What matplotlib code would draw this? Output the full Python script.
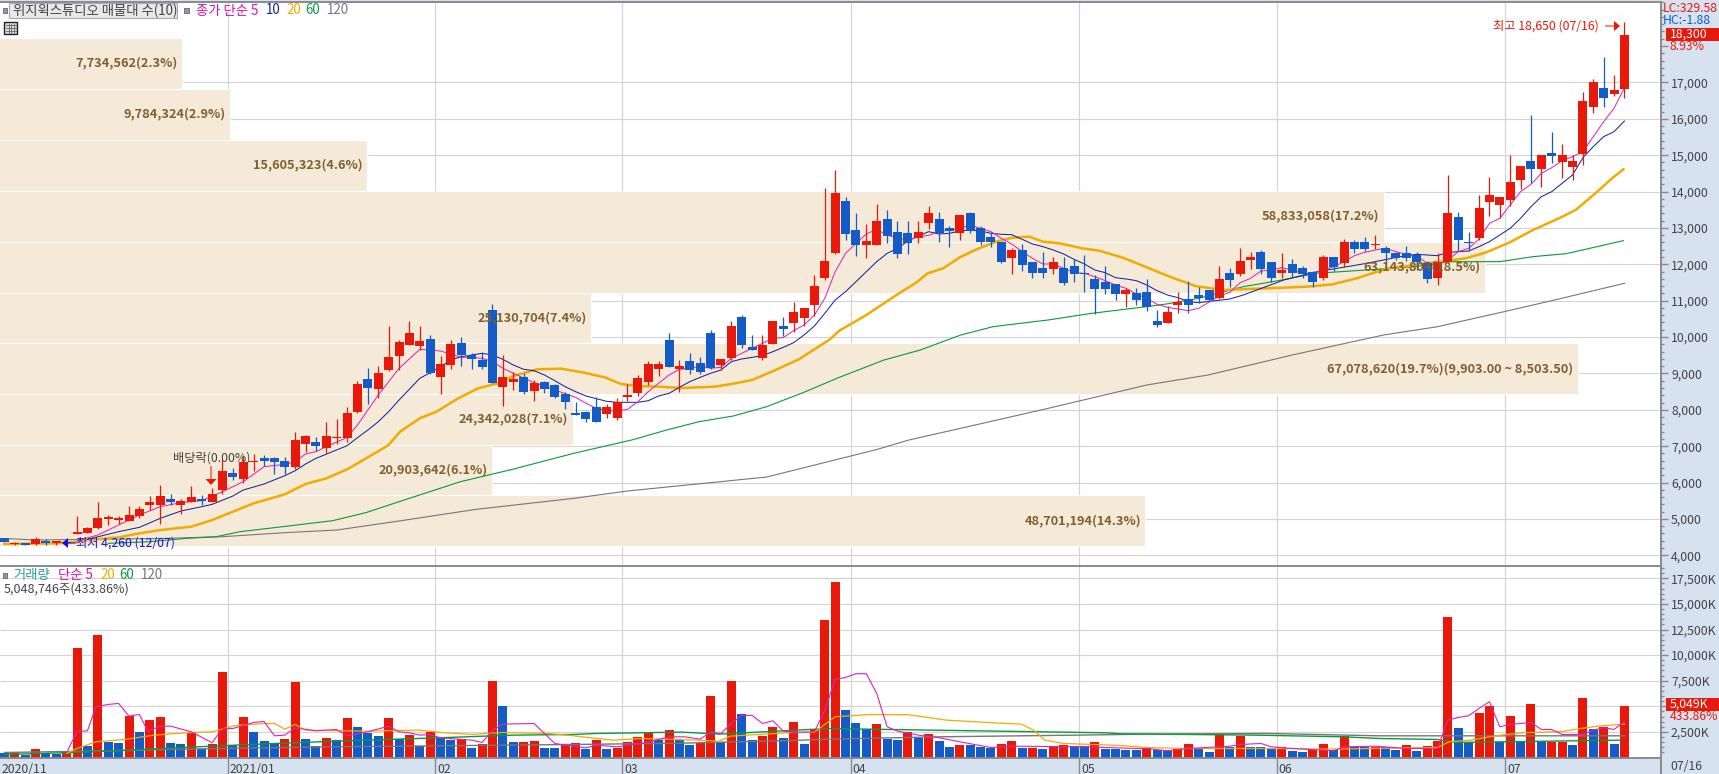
import matplotlib
matplotlib.use("Agg")
import matplotlib.pyplot as plt
from matplotlib.patches import Rectangle, FancyArrow
from matplotlib.transforms import Affine2D

plt.rcParams['font.family'] = ['Noto Sans CJK KR', 'DejaVu Sans']

#----------
# price data
#----------
opens = [4475,4300,4345,4300,4385,4338,4330,4585,4613,4750,
         4998,4980,4943,5080,5383,5383,5548,5383,5465,5538,
         5465,5795,6262,6097,6565,6675,6675,6592,6427,7060,
         7114,6950,7224,7224,7939,8846,8571,9094,9478,9782,
         9754,9946,8902,9232,9836,9507,9369,10744,8627,8764,
         8902,8517,8764,8682,8435,7912,7940,8077,7885,7775,
         8352,8462,8764,9122,9919,9122,9342,9287,10111,9232,
         9424,10551,9727,9424,9809,10304,10386,10524,10881,11623,
         12311,13740,12943,12530,12530,13245,12888,12860,12723,13135,
         13245,12998,12860,13410,12998,12750,12613,12173,12393,12063,
         11898,11871,11898,11953,11761,11596,11513,11458,11183,11211,
         11238,10441,10386,10881,11046,11156,11293,11080,11761,11733,
         12118,12338,12063,11761,12008,11898,11779,11623,12201,12036,
         12613,12613,12531,12448,12311,12311,12256,12027,11623,12063,
         13300,12613,12723,13713,13630,13768,14317,14840,14620,15060,
         14812,14675,15032,16324,16846,16681,16819]
highs = [4475,4355,4345,4500,4440,4393,4400,5080,4778,5465,
         5108,5080,5355,5355,5630,5933,5685,5548,5905,5658,
         5841,6620,6400,6757,6775,6757,6702,6702,7389,7307,
         7252,7664,7747,8076,8791,9149,9204,10303,9918,10441,
         10304,10056,9479,9919,10001,9571,9589,10909,9507,9039,
         9012,8819,8792,8709,8489,8215,7967,8352,8160,8325,
         8709,8957,9342,9342,10111,9369,9562,9452,10194,9397,
         10441,10606,10056,10056,10441,10551,10964,10799,11706,14097,
         14592,13850,13410,13108,13657,13493,13190,13190,13190,13603,
         13438,13053,13355,13438,13053,12888,12613,12448,12558,12063,
         12338,12200,12200,12146,12256,11706,11953,11458,11348,11348,
         11596,10744,10854,11238,11541,11376,11293,11953,11898,12448,
         12338,12393,12063,12311,12146,11953,11816,12256,12201,12695,
         12668,12751,12805,12503,12338,12503,12338,12091,12311,14455,
         13438,12888,13905,14400,13850,15005,14702,16104,15005,15637,
         15307,15005,16736,17094,17698,17204,18650]
lows = [4365,4270,4290,4285,4290,4270,4260,4585,4613,4732,
        4833,4870,4943,5025,5245,4860,5383,5135,5465,5383,
        5465,5685,6070,5996,6317,6455,6235,6235,6372,6840,
        6867,6812,7060,7114,7912,8159,8324,9066,9094,9782,
        9644,8984,8435,9122,9204,9122,9122,8737,8105,8544,
        8435,8242,8462,8325,8022,7857,7665,7665,7775,7720,
        8242,8380,8682,8929,9177,8489,8984,8984,9122,9094,
        9369,9699,9644,9369,9809,10029,10139,10304,10579,11568,
        12283,12668,12228,12173,12530,12585,12173,12283,12585,12970,
        12613,12475,12668,12860,12530,12475,12036,11733,11816,11623,
        11623,11733,11431,11513,11238,10634,11183,11019,10826,10881,
        10716,10276,10386,10661,10661,10936,11000,11050,11376,11678,
        11871,11733,11513,11623,11651,11623,11376,11568,11816,11926,
        12311,12366,12421,12036,12118,12091,11843,11486,11431,12063,
        12366,12366,12668,13328,13273,13603,14070,14235,14125,14785,
        14372,14317,14730,16159,16324,16626,16571]
closes = [4365,4345,4290,4440,4330,4393,4365,4640,4750,5025,
          5053,5035,5108,5273,5465,5630,5465,5493,5603,5483,
          5685,6317,6152,6565,6592,6592,6565,6427,7169,7279,
          7005,7279,7252,7912,8709,8599,9011,9451,9863,10111,
          9891,9012,9259,9809,9507,9397,9177,8737,8902,8847,
          8489,8737,8572,8352,8215,7857,7747,7665,8077,8215,
          8407,8874,9259,9259,9177,9204,9094,9039,9149,9397,
          10304,9782,9644,9782,10441,10221,10689,10799,11403,12091,
          13960,12833,12530,12640,13190,12778,12283,12585,12888,13410,
          12860,12915,13355,12915,12613,12613,12063,12393,11981,11761,
          11761,12063,11486,11733,11733,11321,11321,11183,11293,11019,
          10826,10331,10689,10964,10881,11074,11020,11596,11568,12091,
          12201,11871,11623,11843,11761,11733,11513,12201,11926,12613,
          12421,12421,12558,12311,12173,12173,12063,11596,12063,13410,
          12668,12586,13548,13905,13850,14262,14702,14620,15005,14977,
          15005,14840,16489,17011,16571,16791,18303]

# moving averages, only at the spots where the line could be read
ma5_x = [7,9,11,13,15,17,19,21,23,25,27,28,29,30,31,33,34,35,36,37,38,40,42,44,45,46,47,48,49,51,53,55,56,57,58,59,60,61,62,63,64,65,66,67,68,69,70,72,73,74,75,76,77,78,79,80,81,82,83,84,85,86,87,88,89,90,91,92,93,94,95,96,97,98,99,100,101,102,103,104,105,106,107,108,109,110,111,112,113,114,115,116,117,118,119,120,121,122,123,124,125,126,127,128,129,130,131,132,133,134,135,136,137,138,139,140,141,142,143,144,145,146,147,148,149,150,151,152,153,154,155,156]
ma5_y = [4400,4558,4833,5108,5337,5447,5502,5749,6024,6436,6500,6570,6785,6849,6986,7243,7582,7994,8406,8773,9139,9662,9617,9442,9442,9415,9323,9140,9003,8746,8545,8343,8178,8040,7977,7967,8013,8224,8499,8728,8957,9113,9140,9204,9140,9168,9415,9690,9827,9965,9983,10176,10331,10606,11064,11797,12301,12576,12833,12961,12805,12714,12668,12760,12796,12897,12943,12989,13080,12989,12897,12714,12558,12347,12164,12008,12008,11889,11770,11751,11660,11550,11431,11339,11183,11064,10899,10817,10771,10725,10790,10960,11130,11230,11495,11614,11816,11843,11907,11843,11752,11752,11843,11935,12072,12237,12329,12393,12439,12347,12274,12237,12027,11981,12118,12347,12439,12695,13126,13264,13630,13997,14198,14501,14656,14849,14959,15096,15508,15921,16287,16855]
ma10_x = [8,11,13,15,17,19,20,22,23,25,27,28,29,30,33,34,35,36,37,38,40,41,42,43,44,45,46,47,48,49,50,51,52,53,54,55,56,57,58,59,60,61,62,63,64,65,66,67,68,69,70,71,72,73,74,75,76,77,78,79,80,81,82,83,84,85,86,87,88,89,90,91,92,93,94,95,96,97,98,99,100,101,102,103,104,105,106,107,108,109,110,111,112,113,114,115,116,118,119.3,123.2,126.4,128.7,131.2,134.4,136,138,139,140,141,142,143,144,145,146,147,148,149,150,151,152,153,154,155,156]
ma10_y = [4439,4650,4769,5016,5218,5337,5401,5630,5795,5960,6189,6326,6510,6665,7014,7234,7444,7673,7948,8269,8865,9021,9186,9369,9461,9507,9552,9507,9387,9232,9113,9076,8957,8801,8636,8499,8380,8306,8233,8206,8206,8206,8251,8380,8453,8618,8774,8893,9003,9094,9323,9397,9442,9488,9598,9717,9846,10056,10304,10652,11019,11248,11522,11797,12072,12301,12439,12640,12778,12897,12833,12851,12915,12943,12915,12851,12824,12814,12686,12558,12485,12393,12283,12136,12008,11843,11770,11632,11596,11550,11431,11275,11156,11083,10973,10945,10980,11046,11156,11568,11797,11907,12027,12210,12274,12237,12329,12347,12366,12485,12622,12805,12989,13264,13584,13859,13997,14226,14455,14931,15234,15509,15646,15939]
ma20_x = [0,2,5,7,8,11,13,15,18,20,22,24,27,29,31,33,35,37,38.1,40,41.6,43.7,45.6,47.5,49,51.3,53.6,55.8,57.8,59.4,61,63,65.2,68.4,70,72,73.9,76.5,79.5,80.4,83,85.9,87.8,88.9,90.4,92,93.6,95.5,97.1,98.7,100,101.6,103.8,105.4,107.7,110,112.2,114.7,117.3,121.5,125.4,127.9,130.2,133,136.9,138.2,140.7,142.7,144.9,147.2,149.7,151.3,153.2,154.8,155.9]
ma20_y = [4310,4320,4330,4370,4420,4494,4604,4695,4787,4970,5199,5428,5676,5960,6116,6363,6693,7032,7400,7766,7949,8315,8590,8728,8929,9113,9131,9021,8893,8709,8654,8636,8599,8636,8709,8819,9048,9387,9937,10176,10606,11156,11495,11752,11889,12191,12411,12622,12732,12760,12622,12576,12439,12375,12182,11917,11660,11403,11293,11339,11385,11449,11614,11871,12027,12072,12164,12329,12595,12943,13264,13493,13951,14363,14611]
ma60_x = [10,14,17.5,20.4,22.7,26.8,31.6,34.8,38,43.9,48.9,54.8,60.4,64,66.9,70.2,73.4,76.9,80.4,84.7,88.2,92.1,95.2,100.5,104.7,110,111.9,115,119.3,122.5,126.3,131.1,135.9,139.1,144,147.2,150.4,155.9]
ma60_y = [4329,4375,4466,4512,4650,4787,4952,5172,5474,6023,6362,6802,7170,7463,7674,7830,8086,8471,8893,9369,9644,10057,10286,10469,10652,10836,10909,11064,11385,11541,11752,11843,11935,12072,12072,12210,12292,12650]
ma120_x = [0.5,3,15.6,21,27,32,38,45.4,54.8,60,73.4,84,87.1,93.5,100.5,110,115.9,124,132.8,138,144.4,149,156]
ma120_y = [4457,4420,4466,4512,4622,4695,4943,5263,5565,5768,6152,6908,7170,7583,8040,8682,8956,9506,10056,10285,10697,11000,11477]

#----------
# volume data (thousand shares)
#----------
volumes = [424,520,293,815,391,326,620,10690,1108,11960,
           1532,1402,4042,2478,3651,3945,1402,1304,2478,782,
           1304,8346,1206,3945,2478,1597,1402,1793,7368,1793,
           1108,1891,1695,3847,2967,2380,2086,3847,1793,2184,
           1108,2478,1891,1695,1793,913,1304,7465,5020,1500,
           1500,1597,913,913,1206,1402,815,1695,815,913,
           1500,1989,2478,1695,2673,1695,1206,1402,5998,1500,
           7465,4238,1695,2086,2967,1891,3456,1304,2771,13431,
           17148,4629,3358,2771,3260,1793,1695,2478,1891,2282,
           1597,1011,1206,1206,1011,913,1304,1597,913,913,
           815,1011,1206,1108,1108,1500,815,815,717,717,
           913,717,717,815,1304,815,522,2184,1011,2086,
           1011,1011,815,1011,619,522,717,1304,717,2086,
           1011,1011,1011,1011,717,1206,619,1108,1597,13725,
           2869,1500,4336,5020,1500,4042,1597,5216,1597,1500,
           1500,1206,5803,2771,2967,1304,5049]
vol_colors = ("brbrbbrrbr" "bbrbrrbbrb" "rrbrbbbrrb" "brbrbbbrbr" "brbbrbrrbb"
              "rrbbrrbrbr" "rrrbrbbrrb" "rbbrrbrbrr" "rbbbrbbrbr" "bbrbbbrrbr"
              "brrbbrbbbb" "rbbrrbbrbr" "bbbrbbrrbr" "bbrbbrbrrr" "bbrrbrbrbr"
              "rbrbrbr")

vma5_x = [6.1,7,8,8.8,10,11,12,13,13.8,15,16,18,20,21,22,24,25,26,27,28,29,30,32,33,35,37,38,39,40,41,42,45,46,47,48,51,52,53,54.8,56,57,59,61.8,64,65.5,67,68,69,70,71,72,73,74,75,76,78,79,80,81,82,83,84,85,86,88,90,92,95,97,104,109,110,112,114,118,119,121,122,124,128,129,132,135,138,139,140,141,142,143,144,145,147,148,149,150,152,153,154,155,156]
vma5_y = [717,2543,2608,4955,5183,5281,4042,4205,2575,3064,3064,2510,1434,2836,2836,3423,3521,2119,2184,2901,2738,2608,2738,2119,2510,3064,2510,2412,2184,2249,1923,1695,1467,2673,3260,3325,2347,1369,1108,945,1206,1043,1467,2021,2021,1793,2478,2347,3325,4108,4108,3325,3586,2575,2445,2510,4629,7628,7824,8183,8183,6259,2999,2575,2184,1923,1532,978,1108,1043,880,880,652,880,1108,1271,1369,1043,880,652,1043,1108,880,880,3651,3912,4075,4792,5444,2999,3227,3423,2738,2738,2249,2249,2673,2901,2738,3521]
vma20_x = [6,7,8.8,11.6,14.4,17.5,20,22.1,25,26,27,28,29,34.8,40,42,45,48,52.4,54.8,56.5,58.6,61.4,66.7,68.8,69.9,75.9,78,80,83.4,87.1,90.7,95.2,97.9,99.1,100.2,102,107.5,110,113.4,124,127.5,138,139.1,141.2,143,144.6,146.2,150,151.8,153.5,156]
vma20_y = [391,880,1532,1760,2184,2412,2510,3097,3325,3325,2771,3227,2673,2575,2673,2445,2249,2445,2347,2119,1923,1695,1858,1695,1597,2086,2445,2478,3977,4205,4173,3651,3390,3260,2673,1695,1369,1174,978,880,880,815,978,1532,1695,2021,2249,2412,2543,2836,3064,3260]
vma60_x = [0,6.6,8.2,13.7,20.7,27.7,34.8,41.8,48.9,54.8,56.9,65.3,68.8,79.4,82.9,93.5,106.1,107.5,120.5,128.9,132.4,138,139.8,155.7]
vma60_y = [293,489,554,815,1141,1434,1695,1923,2184,2249,2347,2478,2282,2836,2771,2608,2412,2315,2184,2021,1858,1760,1467,1695]
vma120_x = [0,10.1,20.7,31.3,41.8,54.8,65.3,75.9,79.4,90,103.3,110,121.5,132.4,156]
vma120_y = [489,652,880,1043,1141,1271,1402,1663,1793,2021,2184,2282,2347,2119,2119]

#----------
# volume-by-price bands, bottom band first
#----------
band_edges = [4264,5658,7046,8439,9828,11219,12621,14023,15425,16827,18221]
band_vols = [48701194,20903642,24342028,67078620,25130704,63143804,58833058,15605323,9784324,7734562]
band_labels = ["48,701,194(14.3%)","20,903,642(6.1%)","24,342,028(7.1%)",
               "67,078,620(19.7%)(9,903.00 ~ 8,503.50)","25,130,704(7.4%)",
               "63,143,804(18.5%)","58,833,058(17.2%)","15,605,323(4.6%)",
               "9,784,324(2.9%)","7,734,562(2.3%)"]

month_pos = [21.5,41.5,59.5,81.5,103.5,122.5,144.5]
month_labels = ["2021/01","02","03","04","05","06","07"]
price_ticks = list(range(4000,19000,1000))
price_labels = ["4,000","5,000","6,000","7,000","8,000","9,000","10,000","11,000","12,000",
                "13,000","14,000","15,000","16,000","17,000",""]
vol_ticks = [2500,5000,7500,10000,12500,15000,17500]
vol_labels = ["2,500K","","7,500K","10,000K","12,500K","15,000K","17,500K"]

#----------
# colours and page setup
#----------
RED = "#E8190A"
BLUE = "#135CC8"
PINK = "#DD22BB"
NAVY = "#1020A0"
ORANGE = "#F0AC00"
GREEN = "#0A9A3C"
GRAY = "#777777"
GRID = "#D3D3D3"
BAND = "#F5E9D7"
BROWN = "#80602F"
PANEL = "#D6E2F0"
AXIS = "#8A8A8A"
TXT = "#444444"

W, H = 1719, 774
fig = plt.figure(figsize=(W/100, H/100), dpi=100, facecolor=PANEL)
pix = Affine2D().scale(1, -1).translate(0, H)

def box(x0, y0, x1, y1):
    return [x0/W, 1-y1/H, (x1-x0)/W, (y1-y0)/H]

def put(x, y, s, color=TXT, size=8.8, ha='left', **kw):
    fig.text(x, y, s, transform=pix, color=color, fontsize=size, ha=ha, va='center', zorder=30, **kw)

xlim = (-0.424, 159.55)
ylim = (3698, 19224)

# three stacked axes: grid at the back, bands, candles on top
ax_g = fig.add_axes(box(0, 1.5, 1661.3, 566.3), zorder=0)
ax_b = fig.add_axes(box(0, 1.5, 1661.3, 566.3), zorder=1, facecolor='none')
ax = fig.add_axes(box(0, 1.5, 1661.3, 566.3), zorder=2, facecolor='none')
ax_v = fig.add_axes(box(0, 566.3, 1661.3, 757.5), zorder=2)

for a in (ax_g, ax, ax_v):
    a.set_xlim(xlim)
ax_g.set_ylim(ylim)
ax.set_ylim(ylim)
ax_b.set_ylim(ylim)
ax_b.set_xlim(0, 1661.3/23.52e-6)
ax_v.set_ylim(0, 18675)

for a in (ax_g, ax_b):
    a.set_xticks([])
    a.set_yticks([])
    for s in a.spines.values():
        s.set_visible(False)

#grid
ax_g.hlines(price_ticks[:-1], xlim[0], xlim[1], color=GRID, lw=0.8)
ax_g.vlines(month_pos, ylim[0], ylim[1], color=GRID, lw=0.85)
ax_v.hlines([0]+vol_ticks, xlim[0], xlim[1], color=GRID, lw=0.8, zorder=0)
ax_v.vlines(month_pos, 0, 18675, color=GRID, lw=0.85, zorder=0)

#bands
for k in range(len(band_vols)):
    ax_b.barh(band_edges[k], band_vols[k]+200000, left=-200000, height=band_edges[k+1]-band_edges[k],
              align='edge', color=BAND, edgecolor='white', linewidth=0.8)
    mid = (band_edges[k]+band_edges[k+1])/2
    ax.annotate(band_labels[k], xy=(band_vols[k], mid), xycoords=ax_b.transData,
                xytext=(-3, 0), textcoords='offset points', ha='right', va='center',
                color=BROWN, fontsize=9.2, fontweight='bold', zorder=20)

#moving averages, under the candles
ax.plot(ma120_x, ma120_y, color=GRAY, lw=0.8, zorder=2)
ax.plot(ma60_x, ma60_y, color=GREEN, lw=0.8, zorder=2)
ax.plot(ma20_x, ma20_y, color=ORANGE, lw=1.8, zorder=2)
ax.plot(ma10_x, ma10_y, color=NAVY, lw=0.72, zorder=2)
ax.plot(ma5_x, ma5_y, color=PINK, lw=0.72, zorder=2)

#candles
xs = list(range(len(closes)))
cols = [RED if closes[i] >= opens[i] else BLUE for i in xs]
ax.vlines(xs, lows, highs, colors=cols, lw=0.9, zorder=3)
bots = [min(opens[i], closes[i]) for i in xs]
hts = [max(abs(closes[i]-opens[i]), 35) for i in xs]
ax.bar(xs, hts, bottom=bots, width=0.87, color=cols, linewidth=0, zorder=3)

#volume
ax_v.bar(xs, volumes, width=0.87, color=[RED if c == 'r' else BLUE for c in vol_colors], linewidth=0, zorder=2)
ax_v.plot(vma120_x, vma120_y, color=GRAY, lw=1.0, zorder=3)
ax_v.plot(vma60_x, vma60_y, color=GREEN, lw=1.0, zorder=3)
ax_v.plot(vma20_x, vma20_y, color=ORANGE, lw=0.9, zorder=3)
ax_v.plot(vma5_x, vma5_y, color=PINK, lw=0.8, zorder=3)

#axes on the right
for a, ticks, labels, minor_step, top in ((ax, price_ticks, price_labels, 200, 19224),
                                          (ax_v, vol_ticks, vol_labels, 500, 18675)):
    a.yaxis.tick_right()
    a.set_yticks(ticks, labels=labels)
    lo = 4000 if a is ax else 500
    a.set_yticks([v for v in range(lo, top, minor_step) if v not in ticks], minor=True)
    a.tick_params(axis='y', which='major', length=5, width=1, color=AXIS, labelcolor=TXT, labelsize=8.8, pad=2)
    a.tick_params(axis='y', which='minor', length=2.5, width=1, color=AXIS)
    for s in a.spines:
        a.spines[s].set_visible(s in ('right', 'top'))
        a.spines[s].set_color(AXIS)
        a.spines[s].set_linewidth(1.4)
ax.set_xticks([])
ax_v.spines['bottom'].set_visible(True)
ax_v.spines['bottom'].set_color(AXIS)
ax_v.spines['bottom'].set_linewidth(1.4)
ax_v.set_xticks(month_pos, labels=[""]*len(month_pos))
ax_v.tick_params(axis='x', length=11.5, width=1, color=AXIS)

#dates in the bottom strip
ax_v.annotate("2020/11", xy=(xlim[0], 0), xycoords=('data', 'axes fraction'), xytext=(1, -8.5),
              textcoords='offset points', va='center', color=TXT, fontsize=8.8)
for p, s in zip(month_pos, month_labels):
    ax_v.annotate(s, xy=(p, 0), xycoords=('data', 'axes fraction'), xytext=(1.5, -8.5),
                  textcoords='offset points', va='center', color=TXT, fontsize=8.8)
put(1670, 766, "07/16")
fig.add_artist(plt.Line2D([1661.3, 1661.3], [757.5, 774], transform=pix, color=AXIS, lw=1.4))

#price labels at the right
put(1663, 9, "LC:329.58", color=RED)
put(1663, 21, "HC:-1.88", color=BLUE)
fig.add_artist(Rectangle((1666, 28), 53, 13, transform=pix, color=RED, lw=0, zorder=25))
put(1670, 34.5, "18,300", color='white')
put(1670, 46, "8.93%", color=RED)
fig.add_artist(Rectangle((1666, 698), 53, 12.7, transform=pix, color=RED, lw=0, zorder=25))
put(1670, 704.3, "5,049K", color='white')
put(1670, 716.7, "433.86%", color=RED)

#legend, price panel
fig.add_artist(Rectangle((9, 3), 167.5, 14.7, transform=pix, facecolor="#E8E8E8", edgecolor="#AAAAAA", lw=0.8, zorder=25))
for sx, sy in ((2.5, 7.5), (184, 7.5), (2.5, 572.5)):
    fig.add_artist(Rectangle((sx, sy), 4.5, 5, transform=pix, facecolor="#999999", edgecolor="#666666", lw=0.6, zorder=25))
put(13, 10.5, "위지윅스튜디오 매물대 수(10)", size=9.6)
put(195.5, 10.5, "종가 단순 5", color="#E010B0", size=9.6)
put(266, 10.5, "10", color=NAVY, size=9.6)
put(286, 10.5, "20", color=ORANGE, size=9.6)
put(305.5, 10.5, "60", color=GREEN, size=9.6)
put(326.4, 10.5, "120", color=GRAY, size=9.6)

# table icon
fig.add_artist(Rectangle((4.4, 21.7), 13, 12.6, transform=pix, facecolor="#DDDDDD", edgecolor="#222222", lw=1, zorder=25))
for gx in (8.5, 11, 13.5):
    fig.add_artist(plt.Line2D([gx, gx], [24, 32.5], transform=pix, color="#666666", lw=0.6, zorder=26))
for gy in (25, 28, 31):
    fig.add_artist(plt.Line2D([6, 16], [gy, gy], transform=pix, color="#666666", lw=0.6, zorder=26))

#legend, volume panel
put(13, 575, "거래량", color="#2A9D9D", size=9.6)
put(58, 575, "단순 5", color="#E010B0", size=9.6)
put(100, 575, "20", color=ORANGE, size=9.6)
put(119.5, 575, "60", color=GREEN, size=9.6)
put(140.7, 575, "120", color=GRAY, size=9.6)
put(3.6, 588.7, "5,048,746주(433.86%)", size=9)

#high, low and ex-dividend marks
put(1599, 25.7, "최고 18,650 (07/16)", color=RED, ha='right')
fig.add_artist(FancyArrow(1605, 26, 15, 0, width=1, head_width=10, head_length=6, length_includes_head=True,
                          transform=pix, color=RED, lw=0, zorder=25))
put(76.5, 543, "최저 4,260 (12/07)", color="#1010EE")
fig.add_artist(FancyArrow(76, 543, -14, 0, width=1, head_width=10, head_length=6, length_includes_head=True,
                          transform=pix, color="#1010EE", lw=0, zorder=25))
put(172.7, 458, "배당락(0.00%)")
fig.add_artist(FancyArrow(211, 466, 0, 19, width=1, head_width=11, head_length=6, length_includes_head=True,
                          transform=pix, color=RED, lw=0, zorder=25))

fig.savefig("out.png", dpi=100, facecolor=PANEL)
